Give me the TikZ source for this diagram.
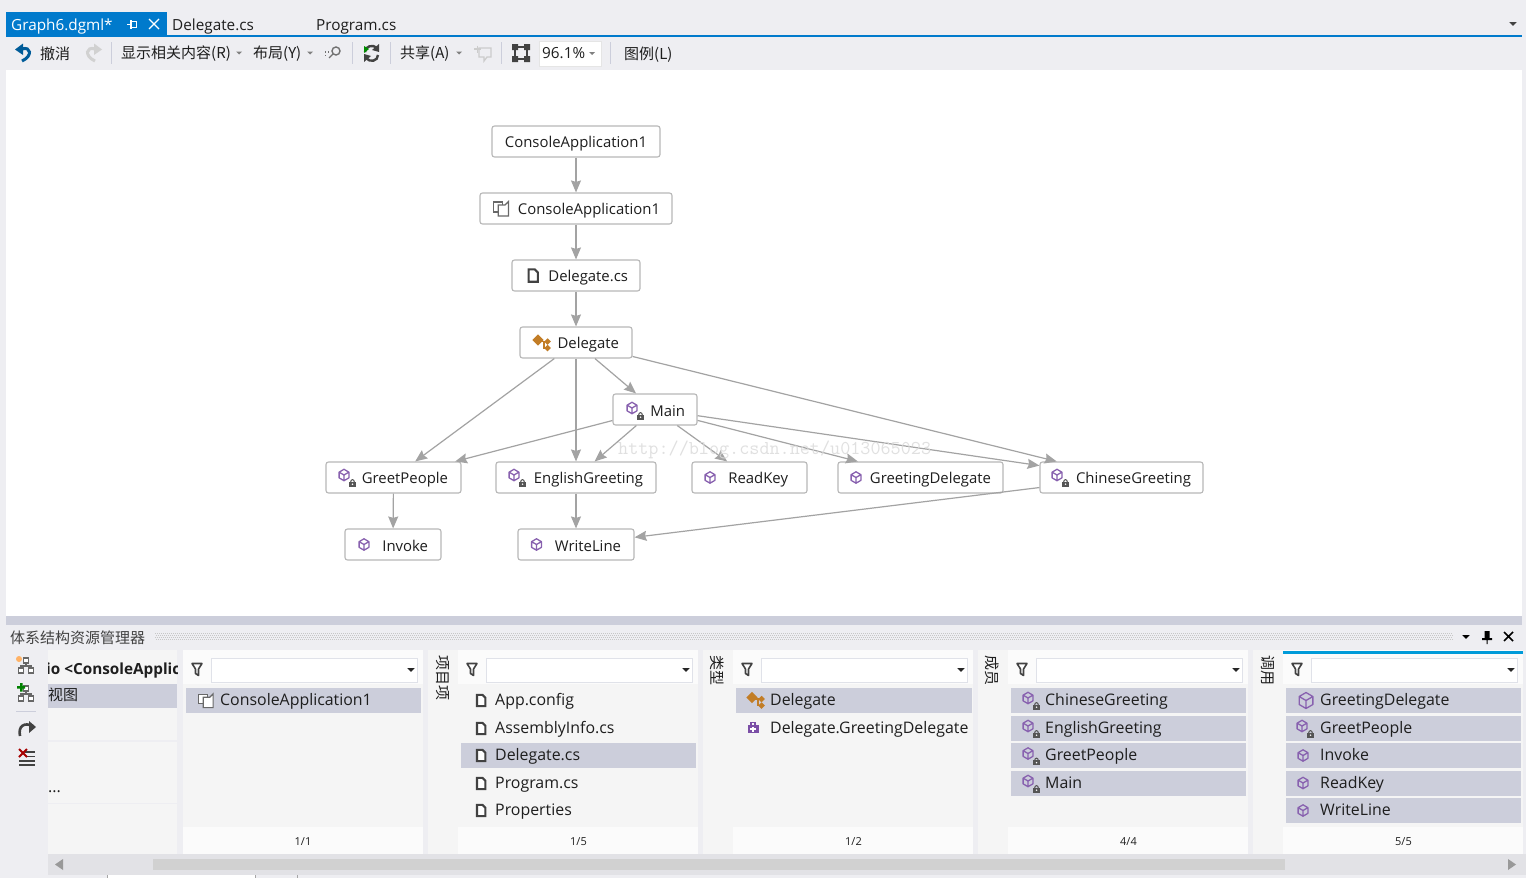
\documentclass[tikz,border=0pt]{standalone}
\usepackage{fontspec}
\setmainfont{Open Sans}
\newfontfamily\cjk{Noto Sans CJK SC}
\usetikzlibrary{arrows.meta}
\definecolor{chrome}{HTML}{EEEEF2}
\definecolor{panelbg}{HTML}{F5F5F5}
\definecolor{lightbg}{HTML}{FBFBFB}
\definecolor{selrow}{HTML}{CCCEDB}
\definecolor{vsblue}{HTML}{007ACC}
\definecolor{edgegray}{HTML}{A3A3A3}
\definecolor{boxgray}{HTML}{B8B8B8}
\definecolor{inktext}{HTML}{1E1E1E}
\definecolor{cubepurple}{HTML}{7B4FA6}
\definecolor{orangeicon}{HTML}{C27D26}
\definecolor{darkicon}{HTML}{424242}
\newcommand{\gstrut}{\rule[-1.5pt]{0pt}{17pt}}
\newcommand{\gnode}[6]{% name, x1, x2, y1, text, extra right margin
  \pgfmathsetmacro{\gw}{#3-#2}\pgfmathsetmacro{\gc}{(#3+#2)/2}\pgfmathsetmacro{\gt}{#3-#2-24}
  \node[gbox,minimum width=\gw pt,text width=\gt pt] (#1) at (\gc,#4+15.5) {\gstrut #5\hspace*{#6}};}
\tikzset{
  gbox/.style={draw=boxgray,line width=1.1pt,rounded corners=2.5pt,fill=white,minimum height=31pt,
    inner xsep=0pt,inner ysep=0pt,align=right,font=\fontsize{14.9}{17}\selectfont,text=inktext},
  flow/.style={draw=edgegray,line width=1.2pt,-{Stealth[length=12pt,width=10pt,inset=1.5pt]}},
  ptext/.style={anchor=base west,yshift=-5.5pt,inner sep=0pt,font=\fontsize{15.9}{18}\selectfont,text=inktext},
  tabtext/.style={anchor=base west,yshift=-5.5pt,inner sep=0pt,font=\fontsize{15.3}{18}\selectfont,text=inktext},
  tbtext/.style={anchor=base west,yshift=-5.5pt,inner sep=0pt,font=\cjk\fontsize{15}{17}\selectfont,text=inktext},
  foot/.style={inner sep=0pt,font=\fontsize{11}{12}\selectfont,text=inktext},
  vlabel/.style={rotate=-90,inner sep=0pt,font=\cjk\fontsize{15}{16}\selectfont,text=inktext},
  sep/.style={draw=selrow,line width=1pt},
  cube/.pic={\draw[cubepurple!90,line width=1.3pt,line join=round]
      (0,-5.7)--(4.9,-2.85)--(4.9,2.85)--(0,5.7)--(-4.9,2.85)--(-4.9,-2.85)--cycle
      (-4.9,-2.85)--(0,0)--(4.9,-2.85) (0,0)--(0,5.7);},
  lockicon/.pic={\fill[darkicon!90] (-3.3,-0.6) rectangle (3.3,4);
      \draw[darkicon!90,line width=1pt] (-1.8,-0.6) .. controls (-1.8,-3.6) and (1.8,-3.6) .. (1.8,-0.6);
      \fill[white] (0,1.7) circle (0.8);},
  lockcube/.pic={\pic at (-4,-2) {cube}; \pic at (4.5,5.5) {lockicon};},
  fileicon/.pic={\draw[darkicon,line width=2.1pt,line join=miter,fill=white]
      (-4.4,-6.2)--(1.6,-6.2)--(4.8,-3)--(4.8,6.2)--(-4.4,6.2)--cycle;},
  projicon/.pic={\draw[darkicon!80,line width=1.2pt,fill=white] (-7.5,-6.5)--(1.5,-6.5)--(1.5,3.5)--(-7.5,3.5)--cycle;
      \draw[darkicon!80,line width=1.2pt,fill=white] (-2.8,-3.5)--(4,-3.5)--(7.5,-7)--(7.5,7.5)--(-2.8,7.5)--cycle;},
  classicon/.pic={\fill[orangeicon,rotate around={45:(-4,-2.5)}] (-8,-6.5) rectangle (0,1.5);
      \fill[orangeicon,rotate around={45:(5.5,-1)}] (3.2,-3.3) rectangle (7.8,1.3);
      \fill[orangeicon,rotate around={45:(5.5,5.5)}] (3.2,3.2) rectangle (7.8,7.8);
      \draw[orangeicon,line width=1.2pt] (-1,-1)--(2,-1)--(2,5.5)--(4,5.5);},
  caseicon/.pic={\fill[cubepurple] (-5.5,-3) rectangle (5.5,5);
      \draw[cubepurple,line width=1.3pt] (-2,-3)--(-2,-5.5)--(2,-5.5)--(2,-3);
      \draw[white,line width=1.1pt] (-2.7,1)--(2.7,1) (0,-1.5)--(0,3.5);},
  filtericon/.pic={\draw[darkicon,line width=1.6pt,line join=round,fill=white]
      (-5,-5.5)--(5,-5.5)--(1.5,0)--(1.5,6.5)--(-1.5,4.5)--(-1.5,0)--cycle;},
  ddtri/.pic={\fill (-3.7,-1.9)--(3.7,-1.9)--(0,1.9)--cycle;},
  smalltri/.pic={\fill[gray] (-3,-1.5)--(3,-1.5)--(0,1.5)--cycle;},
  treeicon/.pic={\draw[darkicon!80,line width=1.3pt,fill=white]
      (-2.5,-8) rectangle (2.5,-3) (-7.5,2) rectangle (-2.5,7) (2.5,2) rectangle (7.5,7);
      \draw[darkicon!80,line width=1.3pt] (0,-3)--(0,0)--(-5,0)--(-5,2) (0,0)--(5,0)--(5,2);},
  undoicon/.pic={\draw[#1,line width=3pt] (-2,-4) .. controls (7,-7) and (9,3) .. (-2,8);
      \fill[#1] (-9,-3.5)--(-1,-9.5)--(-1,2)--cycle;},
  redoicon/.pic={\draw[#1,line width=3pt] (2,-4) .. controls (-7,-7) and (-9,3) .. (2,8);
      \fill[#1] (9,-3.5)--(1,-9.5)--(1,2)--cycle;},
}
\begin{document}
\begin{tikzpicture}[x=1pt,y=-1pt]
\useasboundingbox (0,0) rectangle (1526,878);
% ---------- chrome ----------
\fill[chrome] (0,0) rectangle (1526,878);
\fill[white] (6,70) rectangle (1522,616);
\fill[vsblue] (6,12) rectangle (167,37);
\fill[vsblue] (6,35) rectangle (1522,37);
\node[tabtext,text=white] (tab1) at (11,24.5) {Graph6.dgml*};
\draw[white,line width=1.2pt] (127,24.5)--(131,24.5) (131,20)--(131,29);
\draw[white,line width=1pt] (131,21.5) rectangle (136,27.5);
\draw[white,line width=1.4pt] (149,19)--(159,29) (159,19)--(149,29);
\node[tabtext] (tab2) at (172,24.5) {Delegate.cs};
\node[tabtext] (tab3) at (316,24.5) {Program.cs};
\pic[darkicon] at (1513,24) {ddtri};
% toolbar
\pic at (24,53) {undoicon={vsblue!75!black}};
\node[tbtext] (tb1) at (40,53.5) {撤消};
\pic at (93,53) {redoicon={black!18}};
\draw[sep] (111,42)--(111,64);
\node[tbtext] (tb2) at (121,52.5) {显示相关内容(R)};
\pic at (239,53) {smalltri};
\node[tbtext] (tb3) at (253,52.5) {布局(Y)};
\pic at (310,53) {smalltri};
\draw[darkicon!75,line width=1.4pt] (336,51) circle (4) (333,54)--(329,58);
\draw[darkicon!75,line width=1.2pt,dotted] (325,52)--(330,52) (325,55.5)--(328,55.5);
\draw[sep] (352,42)--(352,64);
\draw[darkicon,line width=2.4pt] (365,52) .. controls (365,46) and (373,44) .. (377,48)
      (378,55) .. controls (378,61) and (370,63) .. (366,58);
\fill[darkicon] (379,44)--(379,52)--(372,50)--cycle (364,62)--(364,54)--(371,56)--cycle;
\fill[green!55!black] (364,46) -- (369,49) -- (364,53) -- cycle;
\draw[sep] (390,42)--(390,64);
\node[tbtext] (tb4) at (400,52.5) {共享(A)};
\pic at (459,53) {smalltri};
\draw[black!20,line width=1.3pt] (479,48) -- (491,48) -- (491,57) -- (487,57) -- (484,61) -- (484,57) -- (479,57) -- cycle;
\draw[black!20,line width=1.3pt] (474,49)--(481,49) (477.5,45.5)--(477.5,52.5);
\draw[sep] (501,42)--(501,64);
\draw[darkicon,line width=2pt,fill=chrome] (515,47) rectangle (527,59);
\fill[darkicon] (512,44) rectangle (518,50) (524,44) rectangle (530,50) (512,56) rectangle (518,62) (524,56) rectangle (530,62);
\node[draw=black!10,fill=white,minimum width=62pt,minimum height=25pt,inner sep=0pt] (zoombox) at (570,53.5) {};
\node[tabtext] (zoomtxt) at (542,53) {96.1\%};
\pic at (592,53.5) {smalltri};
\draw[sep] (610,42)--(610,64);
\node[tbtext] (tb5) at (624,53.5) {图例(L)};
% ---------- graph ----------
\gnode{app}{492}{660}{126}{ConsoleApplication1}{1pt}
\gnode{proj}{480}{672}{193}{ConsoleApplication1}{0pt}
\gnode{dcs}{512}{640}{260}{Delegate.cs}{0pt}
\gnode{del}{520}{632}{327}{Delegate}{1pt}
\gnode{main}{613}{697}{394}{Main}{0pt}
\gnode{greet}{326}{461}{462}{GreetPeople}{1pt}
\gnode{eng}{496}{656}{462}{EnglishGreeting}{1pt}
\gnode{read}{692}{807}{462}{ReadKey}{7pt}
\gnode{gdel}{838}{1003}{462}{GreetingDelegate}{0pt}
\gnode{chi}{1040}{1203}{462}{ChineseGreeting}{0pt}
\gnode{inv}{345}{441}{529}{Invoke}{1pt}
\gnode{wl}{518}{634}{529}{WriteLine}{1pt}
\draw[flow] (app)--(proj);
\draw[flow] (proj)--(dcs);
\draw[flow] (dcs)--(del);
\draw[flow] (del)--(greet);
\draw[flow] (del)--(eng);
\draw[flow] (del)--(main);
\draw[flow] (del)--(chi);
\draw[flow] (main)--(greet);
\draw[flow] (main)--(eng);
\draw[flow] (main)--(read);
\draw[flow] (main)--(gdel);
\draw[flow] (main)--(chi);
\draw[flow] (greet)--(inv);
\draw[flow] (eng)--(wl);
\draw[flow] (chi)--(wl);
\pic at (501,208.5) {projicon};
\pic at (533,275.5) {fileicon};
\pic at (542,342.5) {classicon};
\pic at (636,410) {lockcube};
\pic at (348,477) {lockcube};
\pic at (518,477) {lockcube};
\pic at (1061,477) {lockcube};
\pic at (710,477.5) {cube};
\pic at (856,477.5) {cube};
\pic at (364,544.5) {cube};
\pic at (536.5,544.5) {cube};
\node[anchor=west,inner sep=0pt,text=black!14,opacity=0.85,font=\ttfamily\fontsize{19.6}{20}\selectfont] (mark) at (618,450) {http://blog.csdn.net/u013065023};
% ---------- explorer panel ----------
\fill[selrow] (6,616) rectangle (1522,625);
\node[tbtext,text=darkicon] (paneltitle) at (10,637.5) {体系结构资源管理器};
\foreach \yy/\ph in {633.5/0,635.5/1,637.5/0,639.5/1}
  \draw[black!22,line width=1pt,dash pattern=on 1pt off 1pt,dash phase=\ph pt] (155,\yy)--(1453,\yy);
\pic[black] at (1466,637) {ddtri};
\fill[black] (1484.5,631) rectangle (1489.5,638) (1482,638) rectangle (1492,640) (1486.5,640) rectangle (1487.5,644);
\draw[black,line width=1.5pt] (1504,632)--(1513,641) (1513,632)--(1504,641);
% left icons
\pic at (26,666) {treeicon};
\fill[orange!60] (19,659) circle (3);
\pic at (26,694) {treeicon};
\fill[green!50!black] (17,686) rectangle (25,688.5) (20,683) rectangle (22.5,691.5);
\draw[selrow,line width=1pt] (16,711)--(36,711);
\draw[darkicon,line width=2.6pt] (33,726) .. controls (24,722) and (18,726) .. (20,736);
\fill[darkicon] (36,727)--(29,721)--(29,733)--cycle;
\draw[darkicon,line width=1.8pt] (25,752)--(35,752) (27,756.5)--(35,756.5) (19,761)--(35,761) (19,765)--(35,765);
\draw[red!65!black,line width=1.8pt] (19,749)--(27,757) (27,749)--(19,757);
% left column
\fill[panelbg] (48,650) rectangle (177,854);
\fill[selrow] (48,684) rectangle (177,708);
\draw[chrome,line width=1.2pt] (48,741)--(177,741);
\draw[chrome,line width=0.8pt] (48,803)--(177,803);
\begin{scope}
  \clip (48,655) rectangle (177,682);
  \node[ptext,font=\bfseries\fontsize{15.3}{18}\selectfont] (rootcut) at (46,668.5) {io <ConsoleApplic};
\end{scope}
\node[tbtext] (viewcut) at (48,694.5) {视图};
\node[ptext] (dots) at (48,787) {...};
% columns
\foreach \xa/\xb in {183/423,458/698,733/973,1008/1248,1283/1523}{
  \fill[panelbg] (\xa,650) rectangle (\xb,854);
  \fill[lightbg] (\xa,650) rectangle (\xb,684);
  \fill[lightbg] (\xa,827) rectangle (\xb,854);
  \node[draw=selrow!60,fill=white,minimum height=24pt,minimum width=206pt,inner sep=0pt,anchor=west] at (\xa+28,670) {};
  \pic at (\xa+14,669) {filtericon};
  \pic[black!85] at (\xa+228,670) {ddtri};
}
\foreach \xa in {428,703,978,1253}{\fill[panelbg] (\xa,650) rectangle (\xa+30,854);}
\fill[vsblue!75!cyan] (1283,651) rectangle (1523,654);
\node[vlabel] (vl1) at (443,678) {项目项};
\node[vlabel] (vl2) at (717,670) {类型};
\node[vlabel] (vl3) at (992,670) {成员};
\node[vlabel] (vl4) at (1268,670) {调用};
\node[foot] (f1) at (303,841.5) {1/1};
\node[foot] (f2) at (578.5,841.5) {1/5};
\node[foot] (f3) at (853.5,841.5) {1/2};
\node[foot] (f4) at (1128.5,841.5) {4/4};
\node[foot] (f5) at (1403.5,841.5) {5/5};
% selections
\fill[selrow] (186,688) rectangle (421,713);
\fill[selrow] (461,743) rectangle (696,768);
\fill[selrow] (736,688) rectangle (972,713);
\foreach \yy in {688,716,743,771}{\fill[selrow] (1011,\yy) rectangle (1246,\yy+25);}
\foreach \yy in {688,716,743,771,798}{\fill[selrow] (1286,\yy) rectangle (1521,\yy+25);}
% column texts
\pic[scale=0.95] at (206,700.5) {projicon};
\node[ptext] (c2a) at (220,700) {ConsoleApplication1};
\pic[scale=0.9] at (481,700.5) {fileicon};
\pic[scale=0.9] at (481,728.5) {fileicon};
\pic[scale=0.9] at (481,755.5) {fileicon};
\pic[scale=0.9] at (481,783.5) {fileicon};
\pic[scale=0.9] at (481,810.5) {fileicon};
\node[ptext] (c3a) at (495,700) {App.config};
\node[ptext] (c3b) at (495,728) {AssemblyInfo.cs};
\node[ptext] (c3c) at (495,755) {Delegate.cs};
\node[ptext] (c3d) at (495,783) {Program.cs};
\node[ptext] (c3e) at (495,810) {Properties};
\pic at (756,700) {classicon};
\pic at (753,728) {caseicon};
\node[ptext] (c4a) at (770,700) {Delegate};
\node[ptext] (c4b) at (770,728) {Delegate.GreetingDelegate};
\pic at (1032,700) {lockcube};
\pic at (1032,728) {lockcube};
\pic at (1032,755.5) {lockcube};
\pic at (1032,783) {lockcube};
\node[ptext] (c5a) at (1045,700) {ChineseGreeting};
\node[ptext] (c5b) at (1045,728) {EnglishGreeting};
\node[ptext] (c5c) at (1045,755) {GreetPeople};
\node[ptext] (c5d) at (1045,783) {Main};
\pic[scale=1.4] at (1306,700.5) {cube};
\pic at (1306,728) {lockcube};
\pic at (1303,755.5) {cube};
\pic at (1303,783) {cube};
\pic at (1303,810.5) {cube};
\node[ptext] (c6a) at (1320,700) {GreetingDelegate};
\node[ptext] (c6b) at (1320,728) {GreetPeople};
\node[ptext] (c6c) at (1320,755) {Invoke};
\node[ptext] (c6d) at (1320,783) {ReadKey};
\node[ptext] (c6e) at (1320,810) {WriteLine};
% scrollbar
\fill[chrome!95!black] (48,854) rectangle (1526,875);
\fill[black!18] (153,859) rectangle (1285,870);
\fill[black!40] (55,864.5)--(63,859)--(63,870)--cycle;
\fill[black!40] (1516,864.5)--(1508,859)--(1508,870)--cycle;
\fill[white] (107,875) rectangle (255,878);
\draw[black!35,line width=0.8pt] (107,875)--(107,878) (255,875)--(255,878) (297,875)--(297,878);
\end{tikzpicture}
\end{document}
